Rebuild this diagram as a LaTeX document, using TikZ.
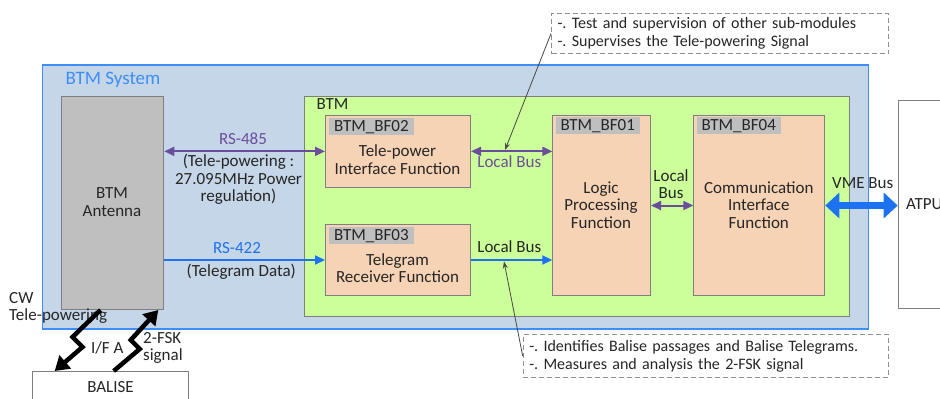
\documentclass[tikz,border=0pt]{standalone}
\usepackage{fontspec}
\setmainfont{Carlito}
\usetikzlibrary{arrows.meta,calc}

\definecolor{sysfill}{HTML}{C5D6E8}
\definecolor{sysline}{HTML}{3D8EF5}
\definecolor{antfill}{HTML}{BFBFBF}
\definecolor{boxline}{HTML}{7F7F7F}
\definecolor{btmfill}{HTML}{CCFF99}
\definecolor{fnfill}{HTML}{F7D3B6}
\definecolor{hdrfill}{HTML}{BFBFBF}
\definecolor{busviolet}{HTML}{6B4E9B}
\definecolor{busblue}{HTML}{1D72F2}
\definecolor{ink}{HTML}{262626}
\definecolor{dashgrey}{HTML}{8F8F8F}

\newcommand\bodyfont{\fontsize{17pt}{17.5pt}\selectfont}
\newcommand\notefont{\fontsize{16pt}{18pt}\selectfont}
\frenchspacing

\begin{document}
\begin{tikzpicture}[x=1pt,y=-1pt,
  every node/.style={font=\bodyfont, text=ink},
  box/.style={draw=boxline, line width=1pt, inner sep=0pt, anchor=north west},
  sysbox/.style={box, draw=sysline, fill=sysfill, line width=1.2pt},
  antbox/.style={box, fill=antfill},
  btmbox/.style={box, fill=btmfill},
  fnbox/.style={box, fill=fnfill},
  hdr/.style={fill=hdrfill, inner xsep=5pt, inner ysep=0pt, minimum height=17pt, anchor=north west},
  lbl/.style={inner sep=0pt, align=center},
  note/.style={draw=dashgrey, dash pattern=on 5pt off 3pt, line width=1.1pt,
    font=\notefont, align=left, inner xsep=6pt, inner ysep=0pt, anchor=north west},
  vbus/.style={draw=busviolet, line width=2pt,
    {Triangle[length=10pt,width=9pt]}-{Triangle[length=10pt,width=9pt]}},
  bbus/.style={draw=busblue, line width=2pt, -{Triangle[length=10pt,width=9pt]}},
  vme/.style={draw=busblue, line width=6.5pt,
    {Triangle[length=14pt,width=25pt]}-{Triangle[length=14pt,width=25pt]}},
  bolt/.style={draw=black, line width=4.5pt, line join=miter,
    -{Triangle[length=14pt,width=17pt]}},
  leader/.style={draw=ink!85, line width=0.8pt, -{Stealth[length=7pt,width=5pt]}}
]
\useasboundingbox (0,0) rectangle (940,399);
\clip (0,0) rectangle (940,399);
\fill[white] (0,0) rectangle (940,399);

% system frame
\node[sysbox, minimum width=826pt, minimum height=264pt] (sys) at (41.7,64.3) {};
\node[anchor=base west, inner sep=0pt, font=\fontsize{19pt}{21pt}\selectfont, text=sysline]
  (systitle) at (65.5,84.5) {BTM System};

% antenna
\node[antbox, minimum width=102.6pt, minimum height=213.3pt] (ant) at (60.7,95.7) {};
\node[lbl] (antt) at (112,202) {BTM\\Antenna};

% BTM unit and its functions
\node[btmbox, minimum width=545pt, minimum height=220.3pt] (btm) at (304.3,95.7) {};
\node[anchor=base west, inner sep=0pt] (btmt) at (316.5,109.5) {BTM};

\node[fnbox, minimum width=145pt, minimum height=71.7pt] (bf02) at (325,115) {};
\node[fnbox, minimum width=145pt, minimum height=71pt] (bf03) at (325,224) {};
\node[fnbox, minimum width=97.7pt, minimum height=180pt] (bf01) at (552.3,115) {};
\node[fnbox, minimum width=131pt, minimum height=180pt] (bf04) at (693.3,115) {};

\node[hdr] (h02) at ([xshift=4pt,yshift=-3pt]bf02.north west) {BTM\_BF02};
\node[hdr] (h03) at ([xshift=4pt,yshift=-3pt]bf03.north west) {BTM\_BF03};
\node[hdr] (h01) at ([xshift=3pt,yshift=-2pt]bf01.north west) {BTM\_BF01};
\node[hdr] (h04) at ([xshift=3pt,yshift=-2pt]bf04.north west) {BTM\_BF04};

\node[lbl] (t02) at (397.5,159.5) {Tele-power\\Interface Function};
\node[lbl] (t03) at (397.5,268) {Telegram\\Receiver Function};
\node[lbl] (t01) at (601,205) {Logic\\Processing\\Function};
\node[lbl] (t04) at (758.8,205) {Communication\\Interface\\Function};

% external units
\node[box, fill=white, minimum width=52.3pt, minimum height=208pt] (atpu) at (897.7,100) {ATPU};
\node[box, fill=white, minimum width=156.6pt, minimum height=32pt] (balise) at (31.7,371) {BALISE};

% link labels
\node[lbl, text=busviolet] (rs485) at (243,139) {RS-485};
\node[lbl] (tp) at (238.5,179.5) {(Tele-powering :\\27.095MHz Power\\regulation)};
\node[lbl, text=busblue] (rs422) at (237,248) {RS-422};
\node[lbl] (tgd) at (241.3,272) {(Telegram Data)};
\node[lbl, text=busviolet] (lb1) at (509.3,162) {Local Bus};
\node[lbl] (lb2) at (509.3,246.5) {Local Bus};
\node[lbl] (lb3) at (671,184) {Local\\Bus};
\node[lbl] (vmet) at (862.7,183) {VME Bus};

% links
\draw[vbus] (bf02.west -| ant.east) -- (bf02.west);
\draw[bbus] (bf03.west -| ant.east) -- (bf03.west);
\draw[vbus] (bf02.east) -- (bf02.east -| bf01.west);
\draw[bbus] (bf03.east) -- (bf03.east -| bf01.west);
\draw[vbus] (bf01.east) -- (bf04.west);
\draw[vme] (bf04.east) -- (bf04.east -| atpu.west);

% annotations
\node[note, text width=325pt, minimum height=40.6pt] (noteTop) at (551,12.7)
  {-. Test and supervision of other sub-modules\\-. Supervises the Tele-powering Signal};
\node[note, text width=353.6pt, minimum height=42.4pt] (noteBot) at (522.7,334.3)
  {-. Identifies Balise passages and Balise Telegrams.\\-. Measures and analysis the 2-FSK signal};
\coordinate (tapTop) at (505,150);
\coordinate (tapBot) at (504,261.5);
\draw[leader] (noteTop.west) -- (tapTop);
\draw[leader] (noteBot.west) -- (tapBot);

% air gap between balise and antenna
\node[lbl, anchor=west, align=left] (cw) at (9,308) {CW\\Tele-powering};
\node[lbl] (ifa) at (107.2,347.5) {I/F A};
\node[lbl, anchor=west, align=left] (fsk) at (143,348) {2-FSK\\signal};
\draw[bolt] ([xshift=-12pt]ant.south) -- ++(-28,27) -- ++(10,10) -- ([xshift=23pt]balise.north west);
\draw[bolt] ([xshift=82pt]balise.north west) -- ++(26,-22) -- ++(-9,-9) -- ([xshift=-6pt]ant.south east);
\end{tikzpicture}
\end{document}
